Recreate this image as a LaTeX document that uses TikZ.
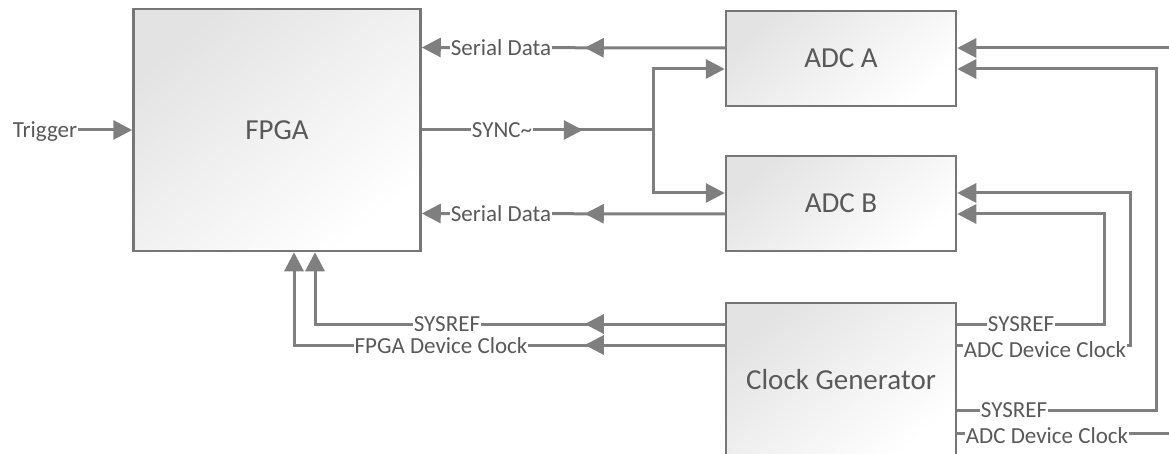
\documentclass[tikz,border=0pt]{standalone}
\usepackage{fontspec}
\setmainfont{Carlito}
\usetikzlibrary{arrows.meta,decorations.markings}

\definecolor{wire}{HTML}{7F7F7F}
\definecolor{frame}{HTML}{767676}
\definecolor{ink}{HTML}{595959}

\tikzset{
  block/.style={draw=frame, line width=2.5pt, rectangle,
    top color=black!11, middle color=black!3, bottom color=white, shading angle=40,
    text=ink, font=\fontsize{29}{33}\selectfont},
  conn/.style={draw=wire, line width=3pt},
  tip/.style={-{Triangle[length=19pt,width=19pt]}},
  midarrow/.style={postaction={decorate},
    decoration={markings, mark=at position #1 with
      {\arrow{Triangle[length=19pt,width=19pt]}}}},
  lbl/.style={fill=white, inner xsep=1pt, inner ysep=1.5pt, text=ink,
    text height=14.8pt, text depth=0pt,
    font=\fontsize{23}{27}\selectfont},
}

\begin{document}
\begin{tikzpicture}[x=1pt,y=-1pt]
\useasboundingbox (0,0) rectangle (1169,454);

% blocks
\node[block, minimum width=287pt, minimum height=242pt] (fpga) at (277,130) {FPGA};
\node[block, minimum width=230pt, minimum height=95pt] (adca) at (841,58.5) {ADC A};
\node[block, minimum width=230pt, minimum height=95pt] (adcb) at (841,203.5) {ADC B};
\node[block, minimum width=230pt, minimum height=154pt] (cg) at (841,380) {Clock Generator};

% ports on the clock generator
\coordinate (cgS) at ([yshift=56pt]cg.west);
\coordinate (cgC) at ([yshift=35pt]cg.west);
\coordinate (cgS1) at ([yshift=56pt]cg.east);
\coordinate (cgC1) at ([yshift=35pt]cg.east);
\coordinate (cgS2) at ([yshift=-30pt]cg.east);
\coordinate (cgC2) at ([yshift=-53pt]cg.east);

% SYNC junction
\coordinate (j) at (653,130);

% trigger input
\node[lbl] (trig) at (45,130) {Trigger};
\draw[conn,tip] (trig.east) -- (fpga.west);

% serial data lanes
\draw[conn,tip,midarrow=140pt] ([yshift=10.5pt]adca.west) -- ([yshift=82.5pt]fpga.east);
\draw[conn,tip,midarrow=140pt] ([yshift=-10.5pt]adcb.west) -- ([yshift=-83.5pt]fpga.east);
\node[lbl] (sd1) at (501,48) {Serial Data};
\node[lbl] (sd2) at (501,214) {Serial Data};

% SYNC~ fan-out
\draw[conn,midarrow=161pt] (fpga.east) -- (j);
\draw[conn,tip] (j) |- ([yshift=-10.5pt]adca.west);
\draw[conn,tip] (j) |- ([yshift=10.5pt]adcb.west);
\node[lbl] (sync) at (502,130) {SYNC\textasciitilde};

% clocks back to the FPGA
\draw[conn,tip,midarrow=140pt] (cgS) -| ([xshift=38pt]fpga.south);
\draw[conn,tip,midarrow=140pt] (cgC) -| ([xshift=17pt]fpga.south);
\node[lbl] (fs) at (447,324) {SYSREF};
\node[lbl] (fc) at (441,346) {FPGA Device Clock};

% clocks to the converters
\draw[conn,tip] (cgS1) -- ++(147,0) |- ([yshift=-10.5pt]adcb.east);
\draw[conn,tip] (cgC1) -- ++(173,0) |- ([yshift=10.5pt]adcb.east);
\draw[conn,tip] (cgS2) -- ++(199,0) |- ([yshift=-10.5pt]adca.east);
\draw[conn,tip] (cgC2) -- ++(216,0) |- ([yshift=10.5pt]adca.east);
\node[lbl] (s1) at (1021,324) {SYSREF};
\node[lbl] (c1) at (1045,350) {ADC Device Clock};
\node[lbl] (s2) at (1014,410) {SYSREF};
\node[lbl] (c2) at (1047,436) {ADC Device Clock};
\end{tikzpicture}
\end{document}
